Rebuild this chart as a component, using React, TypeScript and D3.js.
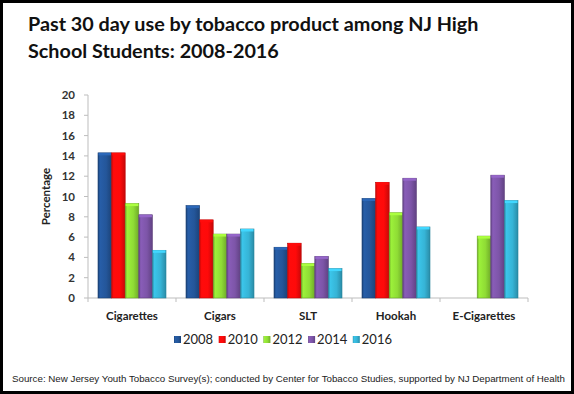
import * as d3 from "d3"

const categories = ["Cigarettes", "Cigars", "SLT", "Hookah", "E-Cigarettes"]
const years = ["2008", "2010", "2012", "2014", "2016"]
const yearColors = ["#24569a", "#ff0a0a", "#8fdc35", "#7d55a8", "#36b4d6"]
// values per year, in category order (null = not surveyed)
const v2008 = [14.3, 9.1, 5.0, 9.8, null]
const v2010 = [14.3, 7.7, 5.4, 11.4, null]
const v2012 = [9.3, 6.3, 3.4, 8.4, 6.1]
const v2014 = [8.2, 6.3, 4.1, 11.8, 12.1]
const v2016 = [4.7, 6.8, 2.9, 7.0, 9.6]
const yTicks = [0, 2, 4, 6, 8, 10, 12, 14, 16, 18, 20]

const series = [v2008, v2010, v2012, v2014, v2016]

const W = 574
const H = 394
const left = 88
const right = 528
const top = 95
const bottom = 298

export default function App() {
  const x0 = d3.scaleBand<string>().domain(categories).range([left, right])
  const bw = x0.bandwidth()
  const x1 = d3.scaleBand<string>().domain(years).range([10, bw - 10])
  const y = d3.scaleLinear().domain([0, 20]).range([bottom, top])

  return (
    <svg width={W} height={H} style={{ position: "absolute", left: 0, top: 0 }}>
      <defs>
        {yearColors.map((c, i) => {
          const dark = d3.color(c)!.darker(0.7).toString()
          const light = d3.color(c)!.brighter(0.25).toString()
          return (
            <linearGradient key={i} id={`g${i}`} x1="0" x2="1" y1="0" y2="0">
              <stop offset="0%" stopColor={dark} />
              <stop offset="15%" stopColor={light} />
              <stop offset="60%" stopColor={c} />
              <stop offset="100%" stopColor={dark} />
            </linearGradient>
          )
        })}
      </defs>
      <rect x={1.5} y={1.5} width={W - 3} height={H - 3} fill="#fff" stroke="#000" strokeWidth={3} />

      <text fontFamily="Lato, sans-serif" fontWeight="bold" fontSize={19.8} fill="#111">
        <tspan x={28} y={31}>Past 30 day use by tobacco product among NJ High</tspan>
        <tspan x={28} y={58}>School Students: 2008-2016</tspan>
      </text>

      {/* y axis */}
      <line x1={left} x2={left} y1={top} y2={bottom} stroke="#bdbdbd" />
      {yTicks.map((t) => (
        <g key={t}>
          <line x1={left - 4} x2={left} y1={y(t)} y2={y(t)} stroke="#bdbdbd" />
          <text x={left - 13} y={y(t)} dy="0.35em" textAnchor="end" fontFamily="Lato, sans-serif"
            fontWeight="bold" fontSize={11.5} fill="#333">{t}</text>
        </g>
      ))}
      <text transform={`translate(50,${(top + bottom) / 2}) rotate(-90)`} textAnchor="middle"
        fontFamily="Lato, sans-serif" fontWeight="bold" fontSize={11.5} fill="#222">Percentage</text>

      {/* x axis */}
      <line x1={left} x2={right} y1={bottom} y2={bottom} stroke="#bdbdbd" />
      {categories.map((c) => (
        <line key={c} x1={x0(c)! + bw} x2={x0(c)! + bw} y1={bottom} y2={bottom + 4} stroke="#bdbdbd" />
      ))}
      <line x1={left} x2={left} y1={bottom} y2={bottom + 4} stroke="#bdbdbd" />
      {categories.map((c) => (
        <text key={c} x={x0(c)! + bw / 2} y={320} textAnchor="middle" fontFamily="Lato, sans-serif"
          fontWeight="bold" fontSize={11.5} fill="#222">{c}</text>
      ))}

      {/* bars */}
      {series.map((vals, si) =>
        vals.map((v, ci) => {
          if (v == null) return null
          const bx = x0(categories[ci])! + x1(years[si])!
          const w = x1.bandwidth()
          return (
            <g key={`${si}-${ci}`}>
              <rect x={bx} y={y(v)} width={w} height={bottom - y(v)} fill={`url(#g${si})`}
                stroke={d3.color(yearColors[si])!.darker(0.9).toString()} strokeWidth={0.6} />
              <rect x={bx + 0.5} y={y(v)} width={w - 1} height={2.5}
                fill={d3.color(yearColors[si])!.brighter(0.5).toString()} />
            </g>
          )
        })
      )}

      {/* legend */}
      {years.map((yr, i) => {
        const lx = 174 + i * 44.7
        return (
          <g key={yr}>
            <rect x={lx} y={336} width={7} height={7} fill={`url(#g${i})`} />
            <text x={lx + 9} y={344} fontFamily="Lato, sans-serif" fontSize={13} fill="#222">{yr}</text>
          </g>
        )
      })}

      <text x={12} y={382} fontFamily="'Liberation Sans', Arial, sans-serif" fontSize={9.5} fill="#222"
        textLength={553} lengthAdjust="spacingAndGlyphs">
        Source: New Jersey Youth Tobacco Survey(s); conducted by Center for Tobacco Studies, supported by NJ Department of Health
      </text>
    </svg>
  )
}
